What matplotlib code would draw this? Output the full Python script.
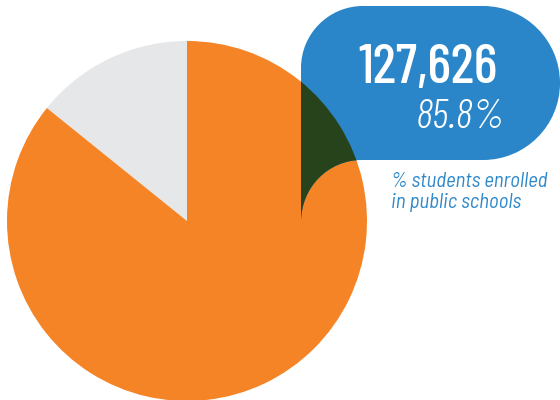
import matplotlib.pyplot as plt
from matplotlib.path import Path
from matplotlib.patches import PathPatch, Wedge

# data
labels = ["public", "other"]
shares = [85.8, 14.2]
enrolled = 127626
colors = ["#F58426", "#E6E7E8"]
caption = ["% students enrolled", "in public schools"]

fig = plt.figure(figsize=(5.6, 4), dpi=100)
ax = fig.add_axes([0, 0, 1, 1])

# pie (gray first, going counter-clockwise from top)
wedges, _ = ax.pie(shares[::-1], colors=colors[::-1], startangle=90,
                   counterclock=True, center=(187, 179), radius=180,
                   wedgeprops=dict(linewidth=0))

# speech bubble, figure pixels with y up
top, bot = 394, 240
r_right = (top - bot) / 2
cx_right = 483
left = 301
r_tl = 62
tail_c = (362, 178)
tail_r = bot - tail_c[1]
k = 0.5523

verts = [
    (left, tail_c[1]),
    (left, top - r_tl),
    (left, top - r_tl * (1 - k)), (left + r_tl * (1 - k), top), (left + r_tl, top),
    (cx_right, top),
    (cx_right + r_right * k, top), (cx_right + r_right, top - r_right * (1 - k)), (cx_right + r_right, top - r_right),
    (cx_right + r_right, bot + r_right * (1 - k)), (cx_right + r_right * k, bot), (cx_right, bot),
    (tail_c[0], bot),
    (tail_c[0] - tail_r * k, bot), (left, tail_c[1] + tail_r * k), (left, tail_c[1]),
    (left, tail_c[1]),
]
codes = ([Path.MOVETO, Path.LINETO] + [Path.CURVE4] * 3 + [Path.LINETO] + [Path.CURVE4] * 6
         + [Path.LINETO] + [Path.CURVE4] * 3 + [Path.CLOSEPOLY])
bubble = PathPatch(Path(verts, codes), facecolor="#2A86C8", edgecolor="none", zorder=3)
ax.add_patch(bubble)

# where bubble covers the orange slice it turns dark green
ow = wedges[1]
overlap = Wedge(ow.center, ow.r, ow.theta1, ow.theta2, facecolor="#26431C",
                edgecolor="none", zorder=4)
ax.add_patch(overlap)
overlap.set_clip_path(bubble)

font = ["Barlow Condensed", "Barlow Semi Condensed", "DejaVu Sans"]
ax.text(428, 317, f"{enrolled:,}", color="white", fontsize=40, fontweight=500,
        family=font, ha="center", va="baseline", zorder=5)
ax.text(505, 272, f"{shares[0]}%", color="white", fontsize=30, style="italic",
        fontweight=300, family=font, ha="right", va="baseline", zorder=5)
for i, line in enumerate(caption):
    ax.text(391, 213 - 21 * i, line, color="#2E88C9", fontsize=15, style="italic",
            family=["Barlow Semi Condensed", "DejaVu Sans"], ha="left",
            va="baseline", zorder=5)

ax.set_xlim(0, 560)
ax.set_ylim(0, 400)
ax.set_aspect("auto")
ax.axis("off")

fig.savefig("out.png", dpi=100)
